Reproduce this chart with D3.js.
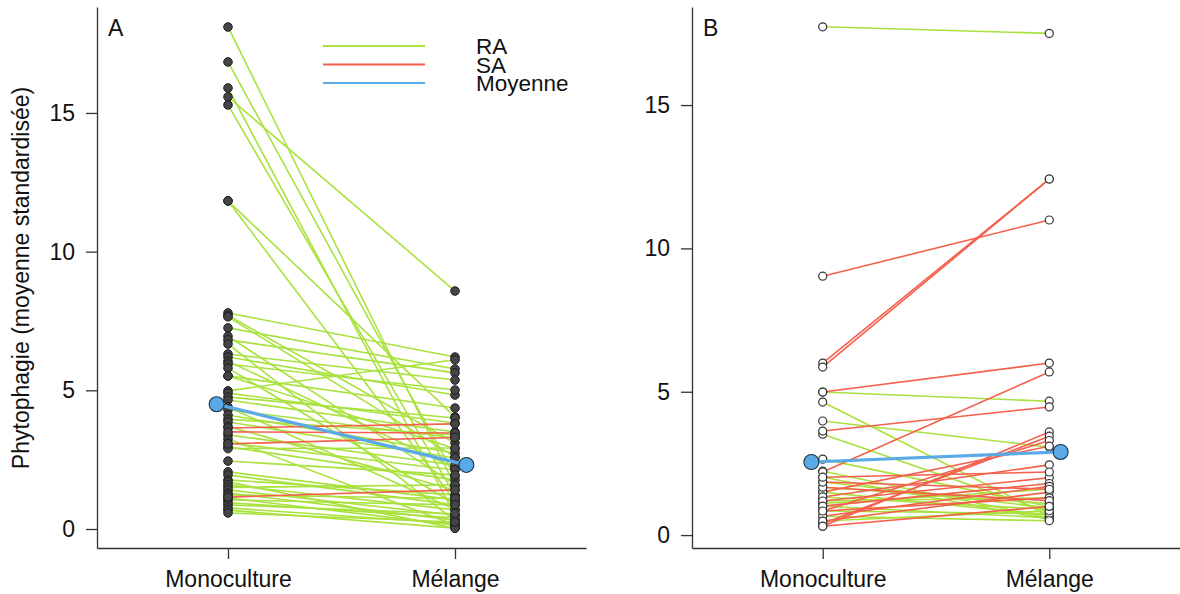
<!DOCTYPE html>
<html>
<head>
<meta charset="utf-8">
<script src="https://cdn.jsdelivr.net/npm/d3@7"></script>
<style>
  body { margin: 0; background: #fff; }
  svg { display: block; font-family: "Liberation Sans", Arial, Helvetica, sans-serif; }
</style>
</head>
<body>
<svg id="chart" width="1180" height="594"></svg>
<script>
// ---------- DATA ----------
const categories = ["Monoculture", "Mélange"];
const yTicksA = [0, 5, 10, 15];
const yTicksB = [0, 5, 10, 15];
const legendLabels = ["RA", "SA", "Moyenne"];
const yTitle = "Phytophagie (moyenne standardisée)";

// Panel A – RA (green) pairs: monoculture value / mélange value
const raMonoA = [18.1, 16.84, 15.9, 15.58, 15.29, 11.83, 11.83, 7.79, 7.7, 7.65, 7.25, 6.95, 6.82, 6.67, 6.31, 6.2, 6.05, 5.95, 5.8, 5.52, 5.52,
                 4.98, 4.9, 4.76, 4.65, 4.4, 4.3, 4.11, 3.96, 3.86, 3.7, 3.39, 3.25, 3.1, 2.96, 2.9, 2.45, 2.06, 1.95, 1.77, 1.7, 1.59, 1.5,
                 1.41, 1.3, 1.23, 1.12, 1.05, 0.95, 0.87, 0.76, 0.68, 0.58];
const raMelA  = [1.55, 1.9, 0.5, 8.58, 1.2, 4.04, 1.0, 6.2, 3.1, 2.6, 5.77, 1.6, 5.63, 0.3, 5.37, 4.83, 2.2, 5.01, 0.9, 4.36, 2.9,
                 6.1, 3.82, 4.0, 3.5, 0.7, 3.28, 2.74, 3.39, 2.56, 1.4, 2.31, 0.14, 2.13, 1.77, 2.92, 1.95, 1.05, 0.87, 1.23, 0.03, 0.69, 1.59,
                 0.5, 0.32, 1.1, 0.14, 0.87, 0.4, 0.55, 0.2, 0.03, 0.25];
// Panel A – SA (red) pairs
const saMonoA = [3.64, 3.5, 3.07, 1.15];
const saMelA  = [3.79, 3.46, 3.3, 1.41];
// Panel A – mean
const meanA = [4.5, 2.31];

// Panel B – RA (green) pairs
const raMonoB = [17.73, 4.99, 4.64, 3.98, 3.52, 2.65, 2.23, 2.02, 1.85, 1.67, 1.5, 1.33, 1.19, 1.01, 0.84, 0.66, 0.49, 1.1];
const raMelB  = [17.5, 4.67, 0.66, 3.07, 0.8, 1.0, 0.6, 0.55, 0.95, 1.1, 0.7, 0.9, 1.3, 0.6, 0.75, 0.5, 0.85, 1.6];
// Panel B – SA (red) pairs
const saMonoB = [9.03, 6.0, 5.86, 4.99, 3.63, 2.2, 0.31, 0.4, 0.84, 1.5, 1.33, 1.19, 1.01, 0.66, 0.49, 0.84, 1.67, 1.85, 2.02, 0.31];
const saMelB  = [10.99, 12.42, 12.42, 6.0, 4.47, 5.69, 3.6, 3.45, 3.3, 3.1, 2.45, 2.0, 1.8, 1.7, 1.5, 1.3, 1.2, 1.6, 2.2, 1.0];
// Panel B – mean
const meanB = [2.55, 2.9];

// ---------- STYLE ----------
const GREEN = "#a9e23e", RED = "#f4604c", BLUE = "#5aaae8";
const AXIS = "#333";
const FS = 23;

const svg = d3.select("#chart");

function drawPanel(opts) {
  const g = svg.append("g");
  const x = d3.scaleLinear().domain([0.423, 2.577]).range(opts.xRange);
  const y = d3.scaleLinear().domain(opts.yDomain).range([548, 7]);

  // axes
  const ya = g.append("g").attr("transform", `translate(${opts.xRange[0]},0)`)
    .call(d3.axisLeft(y).tickValues(opts.yTicks).tickSize(11).tickSizeOuter(0).tickPadding(11).tickFormat(d3.format("d")));
  const xa = g.append("g").attr("transform", `translate(0,548)`)
    .call(d3.axisBottom(x).tickValues([1, 2]).tickSize(11).tickSizeOuter(0).tickPadding(12)
      .tickFormat((d, i) => categories[i]));
  [ya, xa].forEach(a => {
    a.selectAll("path,line").attr("stroke", AXIS).attr("stroke-width", 1.3);
    a.selectAll("text").attr("font-size", FS).attr("fill", "#111")
      .attr("font-family", '"Liberation Sans", Arial, Helvetica, sans-serif');
  });

  // panel letter
  g.append("text").attr("x", opts.xRange[0] + 11).attr("y", 36)
    .attr("font-size", FS).attr("fill", "#111").text(opts.letter);

  const pairs = (mono, mel) => mono.map((m, i) => [m, mel[i]]);
  const raPairs = pairs(opts.raMono, opts.raMel);
  const saPairs = pairs(opts.saMono, opts.saMel);

  const lineGen = p => `M${x(1)},${y(p[0])}L${x(2)},${y(p[1])}`;
  g.append("g").selectAll("path").data(raPairs).join("path")
    .attr("d", lineGen).attr("stroke", GREEN).attr("stroke-width", 1.6).attr("fill", "none");
  g.append("g").selectAll("path").data(saPairs).join("path")
    .attr("d", lineGen).attr("stroke", RED).attr("stroke-width", 1.6).attr("fill", "none");

  const pts = [];
  raPairs.concat(saPairs).forEach(p => { pts.push([1, p[0]]); pts.push([2, p[1]]); });
  g.append("g").selectAll("circle").data(pts).join("circle")
    .attr("cx", d => x(d[0])).attr("cy", d => y(d[1]))
    .attr("r", opts.filled ? 4.3 : 4)
    .attr("fill", opts.filled ? "#454545" : "#fff")
    .attr("stroke", opts.filled ? "#1e1e1e" : "#333")
    .attr("stroke-width", opts.filled ? 1 : 1.2);

  // mean
  const mx = [0.95, 2.05];
  g.append("path")
    .attr("d", `M${x(mx[0])},${y(opts.mean[0])}L${x(mx[1])},${y(opts.mean[1])}`)
    .attr("stroke", BLUE).attr("stroke-width", 3.2).attr("fill", "none");
  g.append("g").selectAll("circle").data(opts.mean).join("circle")
    .attr("cx", (d, i) => x(mx[i])).attr("cy", d => y(d))
    .attr("r", 7.5).attr("fill", BLUE).attr("stroke", "#1f3040").attr("stroke-width", 1.1);
}

drawPanel({ xRange: [97, 586], yDomain: [-0.685, 18.82], yTicks: yTicksA, letter: "A",
  raMono: raMonoA, raMel: raMelA, saMono: saMonoA, saMel: saMelA, mean: meanA, filled: true });
drawPanel({ xRange: [692, 1180], yDomain: [-0.45, 18.42], yTicks: yTicksB, letter: "B",
  raMono: raMonoB, raMel: raMelB, saMono: saMonoB, saMel: saMelB, mean: meanB, filled: false });

// y title
svg.append("text").attr("transform", "translate(29,278) rotate(-90)")
  .attr("text-anchor", "middle").attr("font-size", FS).attr("fill", "#111").text(yTitle);

// legend
const legColors = [GREEN, RED, BLUE];
const legY = [46, 64.5, 83];
const leg = svg.append("g");
legendLabels.forEach((lab, i) => {
  leg.append("line").attr("x1", 323).attr("x2", 425).attr("y1", legY[i]).attr("y2", legY[i])
    .attr("stroke", legColors[i]).attr("stroke-width", 2.2);
  leg.append("text").attr("x", 476).attr("y", legY[i] + 8.3).attr("font-size", 22.5).attr("fill", "#111").text(lab);
});
</script>
</body>
</html>
